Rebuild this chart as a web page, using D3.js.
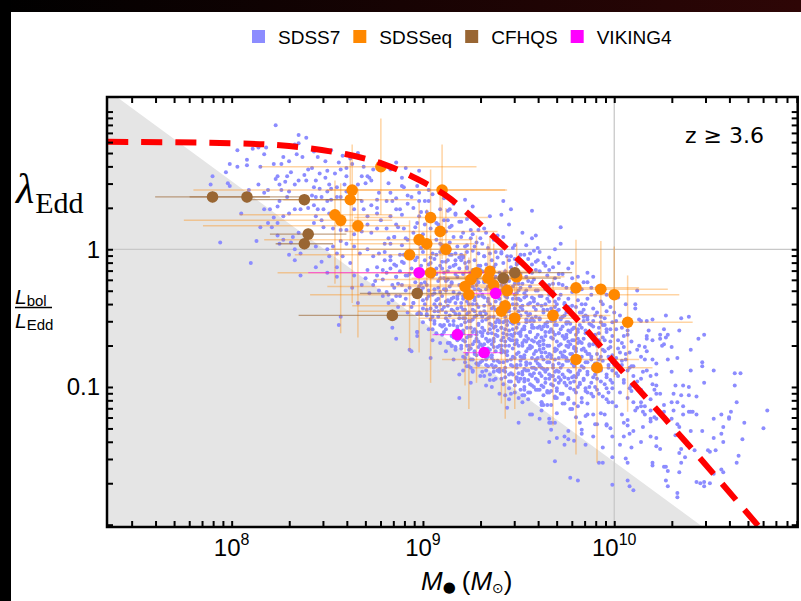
<!DOCTYPE html>
<html>
<head>
<meta charset="utf-8">
<script src="https://cdnjs.cloudflare.com/ajax/libs/d3/7.8.5/d3.min.js"></script>
<style>
  body { margin: 0; background: #fff; }
  svg { display: block; }
</style>
</head>
<body>
<div id="chart"></div>
<script>
// legend
var seriesNames = ["SDSS7", "SDSSeq", "CFHQS", "VIKING4"];
var seriesColors = ["#8c8cff", "#ff8800", "#996633", "#ff00ff"];

// axis ranges and labelled ticks
var xDomain = [2.23e7, 9.1e10];
var yDomain = [0.00962, 12.76];
var xLabelExps = [8, 9, 10];
var yLabelVals = [0.1, 1];
var gridX = [1e10];
var gridY = [1];

// luminosity limit (grey wedge), two ends [M, lambda]
var limitLine = [[2.51e7, 12.76], [2.91e10, 0.00962]];

// red dashed curve, [log M, log lambda]
var curveLog = [[7.35, 0.78], [8.0, 0.77], [8.3, 0.75], [8.6, 0.69], [8.79, 0.62], [8.97, 0.51],
  [9.12, 0.39], [9.26, 0.23], [9.39, 0.065], [9.53, -0.115], [9.66, -0.30], [9.8, -0.50],
  [10.0, -0.82], [10.2, -1.13], [10.4, -1.44], [10.76, -2.02]];

// SDSS7 quasars: [100 log M, 100 log lambda]
var sdss7 = [
  [789,47],[790,53],[798,48],[799,46],[797,56],[799,62],[794,5],[809,43],[814,47],[817,41],[819,43],[803,60],[803,72],[808,65],[808,61],[805,26],[810,-10],[813,6],[817,29],[811,73],[814,74],[818,74],[817,69],[815,60],[815,16],
  [823,51],[824,53],[829,53],[831,56],[828,49],[825,47],[826,43],[830,42],[833,47],[835,50],[838,54],[839,50],[822,62],[826,62],[827,67],[830,64],[834,69],[837,67],[835,77],[833,76],[823,90],[835,83],[839,81],[829,38],[825,35],[824,31],[820,29],[822,23],[819,19],[824,19],[821,16],[827,24],[830,26],[833,29],[836,29],[835,12],[832,9],[831,5],[827,7],[824,10],[825,4],[833,0],[836,-3],[830,-4],[833,-8],[836,-19],
  [840,58],[842,59],[844,50],[846,55],[849,52],[850,57],[854,55],[857,58],[845,67],[849,64],[843,71],[852,72],[858,68],[856,63],[851,47],[852,44],[855,45],[859,47],[850,42],[846,44],[843,45],[842,39],[844,38],[847,38],[850,35],[852,36],[855,38],[857,38],[840,30],[843,32],[845,29],[848,29],[851,26],[844,24],[847,21],[843,19],[848,16],[853,15],[857,14],[850,0],[844,2],[853,2],[857,6],[855,-3],[851,-5],[858,-5],[855,-13],[844,-13],[847,-9],[850,-17],[855,-20],[857,-49],[856,-55],
  [860,59],[860,53],[866,47],[870,48],[873,50],[871,53],[868,53],[860,42],[862,66],[866,70],[863,62],[869,60],[874,58],[878,63],[860,14],[864,11],[868,13],[871,18],[873,12],[876,15],[871,24],[876,26],[869,29],[873,32],[876,36],[868,35],[864,29],[860,4],[864,2],[867,-3],[871,0],[874,-5],[862,-10],[864,-19],[871,-15],[876,-13],[866,-39],[863,-28],[870,-21],[874,-26],[877,-30],[872,-32],[879,-34],[875,-23],[868,-26],
  [872,52],[889,52],[890,45],[881,35],[876,30],[886,37],[888,29],[895,30],[898,35],[901,35],[898,24],[883,24],[878,21],[881,15],[886,18],[890,15],[896,16],[901,18],[907,19],[913,21],[917,26],[922,36],[914,29],[914,16],[920,9],[925,14],[930,8],[933,12],[941,25],[942,35],[946,29],[957,28],[959,10],[960,1],[969,0],[972,4],[972,16],[964,-12],[932,-5],[941,-3],[946,-5],[949,-10],[957,-11],[927,2],[923,3],[921,-5],[914,0],[910,-9],[905,-3],[898,4],[891,8],[885,9],[880,4],[877,-3],[883,-5],[889,-9],[879,-15],[877,41],[883,41],[892,39],[898,41],[903,43],[978,-10],[986,-17],[984,-24],[989,-20],[994,-30],
  [879,-22],[884,-26],[882,-33],[888,-34],[891,-30],[890,-40],[895,-39],[900,-37],[902,-44],[898,-46],[905,-49],[907,-42],[912,-46],[910,-56],[916,-55],[919,-63],[923,-70],[893,-28],[898,-27],[906,-32],[912,-30],[918,-36],[914,-38],[886,-20],[891,-19],[876,-19],
  [919,-108],[886,-65],[884,-57],[893,-73],[894,-74],[897,-63],[897,-60],[900,-53],[909,-68],[912,-74],[917,-73],[915,-70],[919,-91],[921,-88],[924,-85],[926,-89],[928,-83],[933,-99],[937,-95],[940,-105],[943,-106],[945,-109],[950,-108],[953,-102],[957,-120],[963,-113],[966,-123],[969,-126],[974,-136],
  [886,63],[883,58],[882,48],[889,46],[884,35],[886,29],[889,25],[887,16],[885,9],[883,4],[888,-4],[885,-11],[881,-17],[887,-25],[886,-34],[882,-39],[884,-49],
  [891,59],[898,57],[897,46],[894,38],[892,33],[899,27],[897,19],[895,12],[892,7],[899,1],[897,-6],[894,-14],[892,-19],[899,-25],[897,-32],[895,-39],[892,-46],[899,-47],[897,-60],
  [905,40],[903,35],[902,27],[909,29],[904,15],[908,18],[907,7],[901,3],[909,4],[906,-7],[909,-2],[903,-11],[907,-14],[901,-17],[905,-20],[908,-23],[902,-26],[906,-29],[909,-31],[903,-34],[907,-37],[901,-40],[904,-43],[908,-45],[902,-48],[906,-52],[909,-55],[903,-58],[907,-61],[905,-66],[904,-79],[909,-12],[904,-6],[900,-28],[908,-36],[900,11],[906,-45],
  [911,37],[916,33],[913,28],[917,25],[911,21],[915,17],[919,20],[912,13],[916,9],[914,5],[918,2],[911,-1],[915,-4],[919,-6],[912,-9],[916,-12],[913,-16],[917,-18],[911,-21],[915,-24],[919,-26],[912,-29],[916,-31],[918,-34],[913,-37],[917,-39],[911,-42],[915,-44],[919,-47],[912,-50],[916,-52],[914,-55],[918,-58],[911,-60],[915,-63],[919,-65],[913,-68],[917,-71],[916,-80],[910,-14],[917,-8],[914,-27],[910,-34],[918,-43],[914,-48],[917,-61],[913,-22],
  [926,31],[923,22],[929,14],[921,12],[925,8],[928,5],[922,2],[926,-1],[929,-3],[921,-6],[924,-9],[927,-8],[923,-13],[926,-15],[929,-12],[921,-18],[925,-20],[928,-22],[922,-25],[926,-27],[929,-29],[924,-31],[921,-34],[927,-35],[923,-38],[926,-40],[929,-42],[921,-44],[924,-46],[928,-48],[922,-50],[925,-52],[929,-54],[923,-57],[927,-58],[921,-61],[925,-63],[928,-65],[922,-67],[926,-69],[929,-71],[924,-73],[927,-76],[921,-78],[925,-80],[928,-83],[923,-85],[926,-88],[925,-97],[920,-4],[920,-39],[920,-70],[927,-45],[923,-64],[925,-33],[928,-16],[922,-82],[920,20],[926,11],[923,-2],[928,-60],[924,-52],
  [935,24],[932,15],[939,10],[937,7],[931,4],[934,1],[938,-2],[932,-5],[936,-8],[939,-6],[933,-11],[937,-13],[931,-16],[935,-18],[938,-20],[932,-23],[936,-25],[939,-27],[933,-29],[937,-31],[931,-34],[934,-36],[938,-38],[932,-41],[936,-43],[939,-45],[933,-47],[937,-49],[931,-52],[935,-54],[938,-56],[932,-59],[936,-61],[939,-63],[933,-65],[937,-67],[931,-70],[934,-72],[938,-74],[932,-77],[936,-79],[939,-81],[933,-84],[937,-86],[931,-89],[935,-91],[938,-94],[936,-100],[930,-12],[930,-47],[930,-82],[935,-3],[935,-40],[935,-66],[934,-27],[937,-57],[932,-69],[939,-35],[933,-21],[938,-11],[931,-61],[934,-50],[937,-22],[939,-88],[930,-30],[934,-15],
  [945,18],[942,9],[948,3],[947,1],[941,-2],[944,-5],[948,-7],[942,-10],[946,-13],[949,-11],[943,-16],[947,-18],[941,-21],[945,-23],[948,-25],[942,-28],[946,-30],[949,-32],[943,-34],[947,-36],[941,-39],[944,-41],[948,-43],[942,-46],[946,-48],[949,-50],[943,-52],[947,-54],[941,-57],[945,-59],[948,-61],[942,-64],[946,-66],[949,-68],[943,-70],[947,-72],[941,-75],[944,-77],[948,-79],[942,-82],[946,-84],[949,-86],[943,-89],[947,-91],[941,-94],[945,-96],[948,-99],[946,-105],[944,-115],[940,-17],[940,-52],[940,-87],[945,-8],[945,-45],[945,-70],[944,-32],[947,-63],[942,-74],[949,-40],[943,-26],[948,-16],[941,-66],[944,-55],[947,-27],[949,-93],[940,-36],[944,-20],
  [952,12],[957,8],[954,3],[958,-1],[951,-4],[955,-7],[959,-9],[953,-12],[956,-15],[951,-18],[954,-20],[958,-22],[952,-25],[956,-27],[959,-30],[953,-32],[957,-35],[951,-37],[955,-40],[958,-42],[952,-44],[956,-47],[959,-49],[954,-51],[950,-54],[957,-55],[953,-58],[956,-60],[951,-63],[955,-65],[958,-67],[952,-70],[956,-72],[959,-74],[953,-77],[957,-79],[951,-81],[954,-84],[958,-86],[952,-89],[956,-91],[959,-94],[953,-96],[957,-99],[951,-102],[955,-104],[952,-111],[954,-34],[950,-45],[958,-57],[950,-70],[955,-88],[959,-81],[953,-4],[957,-17],[950,-25],[954,-63],[958,-36],[951,-94],[956,-52],[950,-10],[957,-66],[952,-79],[955,-23],[959,-15],[951,-60],[954,-74],[958,-100],[952,-41],[956,-3],[953,-87],
  [961,-2],[966,-6],[963,-10],[968,-13],[961,-16],[965,-19],[969,-21],[962,-24],[966,-26],[964,-29],[968,-31],[961,-34],[965,-36],[969,-38],[962,-41],[967,-43],[963,-46],[966,-48],[961,-51],[965,-53],[969,-55],[962,-58],[966,-60],[964,-63],[968,-65],[961,-67],[965,-70],[969,-72],[962,-75],[967,-77],[963,-80],[966,-82],[961,-85],[965,-87],[969,-89],[962,-92],[966,-94],[964,-97],[968,-99],[961,-102],[965,-104],[969,-107],[967,-113],[962,-117],[960,-30],[960,-57],[960,-79],[967,-52],[964,-40],[968,-84],[963,-69],[966,-33],[960,-95],[969,-62],[962,-86],[965,-44],[968,-25],[961,-73],[964,-89],[967,-103],[963,-56],[969,-46],[960,-8],[966,-15],[962,-34],[965,-78],[968,-92],
  [971,-10],[976,-14],[973,-18],[978,-21],[971,-25],[975,-28],[979,-30],[972,-33],[976,-36],[974,-39],[978,-41],[971,-44],[975,-46],[979,-49],[972,-51],[977,-54],[973,-56],[976,-59],[971,-61],[975,-64],[979,-66],[972,-69],[976,-71],[974,-74],[978,-76],[971,-79],[975,-81],[979,-84],[972,-86],[977,-89],[973,-91],[976,-94],[971,-97],[975,-99],[979,-102],[972,-105],[976,-108],[974,-112],[978,-116],[970,-40],[970,-67],[970,-88],[977,-60],[974,-48],[978,-93],[973,-78],[976,-42],[970,-103],[979,-72],[972,-95],[975,-53],[978,-31],[971,-83],[974,-64],[973,-26],[979,-57],[975,-70],[971,-18],
  [981,-20],[986,-24],[983,-29],[988,-33],[981,-37],[985,-40],[989,-43],[982,-46],[986,-49],[984,-52],[988,-55],[981,-58],[985,-61],[989,-64],[982,-67],[987,-70],[983,-73],[986,-76],[981,-79],[985,-82],[989,-85],[982,-88],[986,-91],[984,-94],[988,-97],[981,-100],[985,-103],[989,-107],[983,-111],[980,-50],[980,-72],[987,-62],[984,-44],[988,-80],[983,-57],[986,-36],[980,-93],[989,-69],[982,-98],[985,-48],[988,-28],[981,-65],[984,-86],[983,-40],[989,-52],[985,-74],[981,-90],[986,-104],
  [991,-28],[996,-33],[993,-38],[998,-42],[991,-46],[995,-50],[999,-53],[992,-57],[996,-60],[994,-64],[998,-67],[991,-70],[995,-74],[999,-77],[992,-80],[997,-84],[993,-87],[996,-91],[991,-94],[995,-98],[999,-101],[992,-105],[996,-109],[990,-62],[990,-85],[997,-72],[994,-55],[998,-95],[993,-78],[996,-45],[990,-100],[999,-88],[992,-66],[998,-58],[991,-83],[994,-40],[997,-104],[993,-49],
  [1002,-35],[1006,-40],[1003,-48],[1008,-53],[1001,-58],[1005,-63],[1009,-67],[1002,-72],[1006,-76],[1004,-81],[1008,-86],[1001,-90],[1005,-95],[1009,-99],[1003,-104],[1007,-108],[1000,-46],[1004,-68],[1007,-59],[1000,-84],
  [1011,-40],[1011,-43],[1017,-52],[1013,-51],[1035,-50],[1039,-49],[1034,-59],[1047,-62],[1026,-58],[1018,-59],[1012,-30],[1027,-48],[1044,-65],[1040,-73],[1046,-82],[1052,-88],[1063,-90],[1066,-90],[1063,-99],[1064,-111],[1047,-97],[1043,-107],[1036,-99],[1032,-99],[1031,-105],[1033,-111],[1028,-80],[1022,-83],[1020,-80],[1017,-88],[1019,-92],[1020,-98],[1022,-99],[1022,-105],[1019,-109],[1026,-69],[1024,-65],[1028,-62],[1024,-62],[1017,-65],[1020,-66],[1013,-70],[1017,-74],[1012,-73],[1014,-78],[1010,-85],[1010,-92],[1012,-96],[1009,-99],[1009,-103],[1014,-102],[1014,-111],[1012,-115],[1015,-118],[1019,-117],[1039,-118],[1041,-118],[1056,-120],[1060,-122],[1014,-52],[1020,-51],[1080,-117],[1078,-130],[1068,-126],[1061,-118],[1057,-129],[1052,-137],[1067,-138],[1065,-150],[1064,-155],[1050,-147],[1042,-146],[1045,-170],[1047,-172],[1050,-170],[1038,-142],[1034,-148],[1037,-151],[1026,-158],[1022,-137],[1020,-155],[1032,-135],[1034,-129],[1031,-117],[1026,-118],[1024,-105],[1021,-102],[1016,-80],[1015,-89],[1014,-94],[1046,-85],[1040,-88],[1039,-100],[1039,-106],[1035,-106],[1030,-89],[1033,-79],[1030,-71],[1027,-64],[1025,-70],[1017,-63],[1016,-71],[1022,-91],
  [950,-126],[956,-120],[961,-123],[969,-154],[977,-166],[981,-168],[966,-140],[974,-142],[979,-139],[976,-132],[985,-142],[983,-134],[992,-155],[994,-155],[999,-171],[999,-151],[994,-144],[990,-127],[1007,-168],[1008,-172],[1010,-175],[1033,-177],[1033,-180],[1027,-168],[1028,-172],[1027,-158],[1028,-161],[1020,-157],[1034,-162],[1035,-155],[1043,-169],[1047,-169],[1052,-163],[1056,-160],[1057,-162],[1060,-123],[1057,-140],[1053,-146],[1049,-146],[1046,-132],[1040,-132],[1040,-118],[1036,-120],[1034,-134],[1033,-127],[1030,-123],[1035,-145],[1026,-113],[1021,-122],[1019,-123],[1016,-120],[1014,-114],[1024,-145],[1022,-143],[1019,-136],[1014,-140],[1015,-129],[1010,-132],[1009,-144],[1006,-152],[1007,-155],[1003,-142],[1005,-136],[1008,-134],[999,-136],[998,-130],[996,-127],[993,-119],[989,-120],[995,-120],[986,-120],[982,-126],[981,-114],[977,-116],[973,-112],[970,-119],[967,-126],[962,-113],[962,-111],[1010,-111],[1011,-117],[1016,-114],[999,-111],[1001,-114],[1004,-120],[1005,-126],[1007,-128],[1007,-124],[1019,-125],[1022,-123],[1030,-111],[1036,-114],[1043,-120],[1052,-123],[1056,-134],[976,-138],[970,-137],[983,-131],[989,-136],[991,-127],[996,-128],[980,-122],[985,-121],[966,-126],[967,-131],
  [880,-8],[883,-14],[886,-20],[889,-26],[881,-31],[884,-37],[887,-42],[880,-2],[883,-8],[886,-12],[889,3],[882,8],[885,-28],[888,-16],[890,-10],[893,-18],[896,-24],[899,-30],[891,-36],[894,-42],[897,-47],[890,-4],[893,-1],[896,-8],[899,-12],
  [900,-2],[904,-10],[907,-18],[901,-24],[905,-33],[909,-40],[902,-47],[906,-54],[903,-15],[908,-28],[900,-43],[904,-51],[907,-4],[902,-36],[909,-21],[905,-58],[901,-8],[906,-40],[903,-30],[908,-49],
  [910,3],[914,-4],[917,-11],[911,-17],[915,-25],[919,-32],[912,-38],[916,-45],[913,-52],[918,-56],[910,-62],[914,-68],[917,-3],[911,-29],[915,-36],[919,-50],[912,-58],[916,-64],[913,-8],[918,-20],[910,-44],[914,-13],[917,-47],[911,-55],[915,-70],[919,-14],[912,-23],[916,-35],[913,-41],[918,-66],
  [920,-8],[923,-14],[926,-19],[929,-24],[921,-28],[924,-33],[927,-37],[920,-42],[923,-47],[926,-51],[929,-55],[921,-59],[924,-63],[927,-67],[920,-72],[923,-76],[926,-80],[929,-84],[922,-10],[925,-17],[928,-26],[921,-36],[924,-40],[927,-49],[922,-53],[925,-57],[928,-62],[921,-66],[924,-70],[927,-74],[922,-79],[925,-86],[928,-40],[920,-55],[926,-60],[929,-67],[923,-30],[926,-44],[929,-34],[921,-50],[924,-22],[928,-77],[925,-72],[922,-44],[927,-29],
  [930,-15],[933,-20],[936,-24],[939,-29],[931,-33],[934,-38],[937,-42],[930,-46],[933,-51],[936,-55],[939,-59],[931,-63],[934,-67],[937,-71],[930,-76],[933,-80],[936,-84],[939,-88],[932,-92],[935,-95],[938,-30],[932,-45],[935,-49],[938,-53],[931,-57],[934,-61],[937,-65],[930,-69],[933,-73],[936,-77],[939,-71],[931,-81],[934,-85],[937,-89],[930,-92],[935,-26],[938,-44],[932,-35],[935,-58],[938,-62],[931,-49],[934,-78],[937,-81],[930,-60],[933,-88],[936,-69],[939,-51],[932,-24],[935,-73],[938,-85],
  [940,-22],[943,-27],[946,-31],[949,-36],[941,-40],[944,-45],[947,-49],[940,-53],[943,-58],[946,-62],[949,-66],[941,-70],[944,-74],[947,-78],[940,-82],[943,-86],[946,-90],[949,-94],[942,-98],[945,-101],[948,-104],[941,-30],[944,-35],[947,-40],[940,-44],[943,-49],[946,-53],[949,-57],[942,-61],[945,-65],[948,-69],[941,-73],[944,-81],[947,-85],[940,-89],[943,-93],[946,-96],[949,-76],[942,-53],[945,-43],[948,-48],[941,-57],[944,-62],[947,-66],[940,-70],[943,-75],[946,-80],[949,-84],[942,-88],[945,-91],[948,-33],[941,-26],[944,-52],[947,-58],[943,-67],
  [950,-30],[953,-35],[956,-39],[959,-44],[951,-48],[954,-53],[957,-57],[950,-61],[953,-66],[956,-70],[959,-74],[951,-78],[954,-82],[957,-86],[950,-90],[953,-94],[956,-98],[959,-102],[952,-106],[955,-109],[958,-38],[951,-42],[954,-46],[957,-50],[950,-36],[953,-56],[956,-60],[959,-64],[952,-68],[955,-72],[958,-76],[951,-84],[954,-88],[957,-92],[950,-96],[953,-100],[956,-104],[959,-80],[952,-58],[955,-48],[958,-52],[951,-62],[954,-67],[957,-71],[950,-75],[953,-79],[956,-83],[959,-87],[952,-91],[955,-95],[958,-90],[951,-28],[954,-30],[957,-24],[953,-106],
  [960,-40],[963,-44],[966,-48],[969,-52],[961,-56],[964,-60],[967,-64],[960,-68],[963,-72],[966,-76],[969,-80],[961,-84],[964,-88],[967,-92],[960,-96],[963,-100],[966,-104],[969,-108],[962,-111],[965,-113],[968,-46],[961,-50],[964,-54],[967,-58],[960,-62],[963,-66],[966,-70],[969,-74],[962,-78],[965,-82],[968,-86],[961,-90],[964,-94],[967,-98],[960,-102],[963,-106],[966,-38],[969,-42],[962,-64],[965,-56],[968,-60],[961,-70],[964,-75],[967,-79],[960,-83],[963,-87],[966,-91],[969,-95],[962,-99],[965,-103],
  [970,-45],[973,-49],[976,-53],[979,-57],[971,-61],[974,-65],[977,-69],[970,-73],[973,-77],[976,-81],[979,-85],[971,-89],[974,-93],[977,-97],[970,-101],[973,-105],[976,-109],[979,-112],[972,-50],[975,-54],[978,-58],[971,-36],[974,-40],[977,-44],[970,-55],[973,-63],[976,-67],[979,-71],[972,-75],[975,-79],[978,-83],[971,-93],[974,-97],[977,-101],[970,-108],[973,-84],[976,-88],[979,-92],[972,-58],[975,-62],[978,-66],[971,-70],[974,-78],[977,-76],[979,-96],
  [980,-42],[983,-46],[986,-51],[989,-56],[981,-60],[984,-65],[987,-69],[980,-74],[983,-78],[986,-82],[989,-87],[981,-91],[984,-95],[987,-100],[980,-104],[983,-108],[986,-112],[982,-55],[985,-59],[988,-63],[981,-68],[984,-72],[987,-76],[980,-81],[983,-85],[986,-89],[989,-93],[982,-97],[985,-101],[988,-105],[984,-49],[987,-54],[980,-62],[983,-68],[988,-78],
  [990,-48],[993,-53],[996,-58],[999,-63],[991,-68],[994,-73],[997,-78],[990,-83],[993,-88],[996,-93],[999,-97],[991,-102],[994,-107],[997,-111],[992,-61],[995,-66],[998,-71],[991,-76],[994,-81],[997,-86],[990,-91],[993,-96],[996,-101],[999,-82],[995,-55],
  [1001,-52],[1004,-57],[1007,-62],[1002,-66],[1005,-71],[1008,-75],[1001,-79],[1004,-84],[1007,-88],[1002,-92],[1005,-97],[1008,-101],[1003,-75],[1006,-80],[1009,-85]
];

// SDSSeq: log M, log lambda, error bars in dex [M below, M above, lambda below, lambda above]
var eqLogM = [8.78, 8.63, 8.62, 8.54, 8.57, 8.66, 9.10, 9.04, 9.09, 8.98, 9.02, 9.12, 8.93, 9.04, 9.28, 9.35, 9.25,
  9.22, 9.24, 9.34, 9.37, 9.44, 9.43, 9.41, 9.48, 9.68, 9.49, 9.80, 9.93, 10.00, 10.07, 9.80, 9.91];
var eqLogL = [0.60, 0.43, 0.36, 0.25, 0.21, 0.17, 0.43, 0.23, 0.13, 0.07, 0.04, 0.00, -0.04, -0.17, -0.17, -0.16, -0.22,
  -0.27, -0.33, -0.21, -0.26, -0.30, -0.41, -0.45, -0.50, -0.48, -0.20, -0.28, -0.29, -0.33, -0.53, -0.80, -0.86];
var eqErr = [[0.63,0.50,0.35,0.35],[0.83,0.80,0.82,0.33],[0.35,0.35,0.30,0.30],[0.50,0.30,0.50,0.25],[0.82,0.27,0.82,0.27],
  [0.81,0.27,0.81,0.27],[0.60,0.34,0.50,0.33],[0.40,0.30,0.80,0.35],[0.50,0.30,0.60,0.30],[0.81,0.27,0.82,0.27],
  [0.40,0.25,0.50,0.25],[0.60,0.30,0.40,0.30],[0.60,0.30,0.70,0.25],[0.80,0.27,0.80,0.27],[0.50,0.30,0.80,0.27],
  [0.40,0.25,0.40,0.25],[0.50,0.30,0.50,0.30],[0.72,0.26,0.72,0.26],[0.83,0.27,0.83,0.27],[0.40,0.25,0.40,0.25],
  [0.50,0.30,0.50,0.30],[0.40,0.25,0.35,0.25],[0.80,0.27,0.82,0.27],[0.75,0.26,0.67,0.25],[0.50,0.30,0.66,0.25],
  [0.60,0.30,0.80,0.27],[0.40,0.25,0.40,0.25],[0.50,0.33,0.60,0.35],[0.60,0.35,0.60,0.35],[0.60,0.34,0.60,0.35],
  [0.60,0.34,0.65,0.34],[0.70,0.33,0.69,0.26],[0.65,0.29,0.69,0.26]];

// CFHQS
var cfLogM = [7.90, 8.08, 8.38, 8.40, 8.38, 8.97, 8.84, 9.42, 9.48];
var cfLogL = [0.38, 0.38, 0.36, 0.11, 0.04, -0.32, -0.48, -0.21, -0.17];
var cfErr = [[0.30,0.30,0.04,0.04],[0.30,0.30,0.04,0.04],[0.30,0.30,0.04,0.04],[0.20,0.20,0.04,0.04],[0.15,0.15,0.04,0.04],
  [0.30,0.30,0.04,0.04],[0.49,0.49,0.04,0.04],[0.30,0.30,0.04,0.04],[0.30,0.30,0.04,0.04]];

// VIKING4
var vkLogM = [8.98, 9.18, 9.32, 9.38];
var vkLogL = [-0.17, -0.62, -0.75, -0.32];
var vkErr = [[0.58,0.35,0.02,0.02],[0.13,0.10,0.02,0.02],[0.11,0.09,0.02,0.02],[0.12,0.10,0.02,0.02]];

var width = 801;
var height = 601;
var plot = { left: 107, right: 797.7, top: 97, bottom: 527 };

var x = d3.scaleLog().domain(xDomain).range([plot.left, plot.right]);
var y = d3.scaleLog().domain(yDomain).range([plot.bottom, plot.top]);
var p10 = function (v) { return Math.pow(10, v); };

var svg = d3.select("#chart").append("svg")
  .attr("width", width)
  .attr("height", height);

// dark strips around the white panel
var grad = svg.append("defs").append("linearGradient").attr("id", "topband");
grad.append("stop").attr("offset", "0%").attr("stop-color", "#000");
grad.append("stop").attr("offset", "100%").attr("stop-color", "#2e0606");
svg.append("rect").attr("x", 0).attr("y", 0).attr("width", width).attr("height", 12).attr("fill", "url(#topband)");
svg.append("rect").attr("x", 0).attr("y", 0).attr("width", 11).attr("height", height).attr("fill", "#000");

svg.select("defs").append("clipPath").attr("id", "clip")
  .append("rect")
  .attr("x", plot.left).attr("y", plot.top)
  .attr("width", plot.right - plot.left).attr("height", plot.bottom - plot.top);

var g = svg.append("g").attr("clip-path", "url(#clip)");

// grey wedge below luminosity limit
var wedge = [[xDomain[0], yDomain[1]], limitLine[0], limitLine[1], [xDomain[0], yDomain[0]]];
g.append("path")
  .attr("d", "M" + wedge.map(function (d) { return x(d[0]) + "," + y(d[1]); }).join("L") + "Z")
  .attr("fill", "#e5e5e5");

// grid lines
g.selectAll(".gx").data(gridX).join("line")
  .attr("x1", function (d) { return x(d); }).attr("x2", function (d) { return x(d); })
  .attr("y1", plot.top).attr("y2", plot.bottom)
  .attr("stroke", "#c8c8c8").attr("stroke-width", 1.3);
g.selectAll(".gy").data(gridY).join("line")
  .attr("y1", function (d) { return y(d); }).attr("y2", function (d) { return y(d); })
  .attr("x1", plot.left).attr("x2", plot.right)
  .attr("stroke", "#c8c8c8").attr("stroke-width", 1.3);

// SDSS7 cloud
g.append("g").selectAll("circle").data(sdss7).join("circle")
  .attr("cx", function (d) { return x(p10(d[0] / 100)); })
  .attr("cy", function (d) { return y(p10(d[1] / 100)); })
  .attr("r", 2)
  .attr("fill", seriesColors[0]);

function makeRows(lm, ll, err) {
  return lm.map(function (m, i) { return { m: m, l: ll[i], e: err[i] }; });
}

function drawErrors(rows, stroke, w) {
  var eg = g.append("g").attr("stroke", stroke).attr("stroke-width", w);
  eg.selectAll(".h").data(rows).join("line")
    .attr("x1", function (d) { return x(p10(d.m - d.e[0])); })
    .attr("x2", function (d) { return x(p10(d.m + d.e[1])); })
    .attr("y1", function (d) { return y(p10(d.l)); })
    .attr("y2", function (d) { return y(p10(d.l)); });
  eg.selectAll(".v").data(rows).join("line")
    .attr("x1", function (d) { return x(p10(d.m)); })
    .attr("x2", function (d) { return x(p10(d.m)); })
    .attr("y1", function (d) { return y(p10(d.l - d.e[2])); })
    .attr("y2", function (d) { return y(p10(d.l + d.e[3])); });
}

function drawDots(rows, fill, r) {
  g.append("g").selectAll("circle").data(rows).join("circle")
    .attr("cx", function (d) { return x(p10(d.m)); })
    .attr("cy", function (d) { return y(p10(d.l)); })
    .attr("r", r)
    .attr("fill", fill);
}

var eqRows = makeRows(eqLogM, eqLogL, eqErr);
var cfRows = makeRows(cfLogM, cfLogL, cfErr);
var vkRows = makeRows(vkLogM, vkLogL, vkErr);

drawErrors(eqRows, "rgba(255,136,0,0.36)", 1.5);
drawErrors(cfRows, "rgba(153,102,51,0.6)", 1.3);
drawErrors(vkRows, "rgba(255,0,255,0.5)", 1.3);
drawDots(eqRows, seriesColors[1], 5.8);
drawDots(cfRows, seriesColors[2], 5.8);
drawDots(vkRows, seriesColors[3], 5.8);

// red dashed curve
var line = d3.line()
  .x(function (d) { return x(p10(d[0])); })
  .y(function (d) { return y(p10(d[1])); })
  .curve(d3.curveCatmullRom.alpha(0.5));
g.append("path")
  .attr("d", line(curveLog))
  .attr("fill", "none")
  .attr("stroke", "#ff0000")
  .attr("stroke-width", 6)
  .attr("stroke-dasharray", "21,13");

// frame with inward ticks on all sides
function ticks(axis, tx, ty, scale) {
  var a = svg.append("g").attr("transform", "translate(" + tx + "," + ty + ")")
    .call(axis(scale).tickValues(scale.ticks()).tickSize(-6).tickFormat(""));
  a.select(".domain").remove();
  a.selectAll("line").attr("stroke", "#000").attr("stroke-width", 2);
}
ticks(d3.axisBottom, 0, plot.bottom, x);
ticks(d3.axisTop, 0, plot.top, x);
ticks(d3.axisLeft, plot.left, 0, y);
ticks(d3.axisRight, plot.right, 0, y);

svg.append("rect")
  .attr("x", plot.left).attr("y", plot.top)
  .attr("width", plot.right - plot.left).attr("height", plot.bottom - plot.top)
  .attr("fill", "none").attr("stroke", "#000").attr("stroke-width", 2.5);

// tick labels
var xl = svg.append("g").attr("font-family", "Liberation Sans, Arial, sans-serif").attr("fill", "#000");
xLabelExps.forEach(function (e) {
  var t = xl.append("text").attr("x", x(p10(e))).attr("y", 556).attr("text-anchor", "middle").attr("font-size", 24);
  t.append("tspan").text("10");
  t.append("tspan").attr("font-size", 16).attr("dy", -11).text(e);
});
svg.append("g").selectAll("text").data(yLabelVals).join("text")
  .attr("x", 100)
  .attr("y", function (d) { return y(d) + 8.5; })
  .attr("text-anchor", "end")
  .attr("font-family", "Liberation Sans, Arial, sans-serif")
  .attr("font-size", 24)
  .text(function (d) { return d; });

// panel note
svg.append("text").attr("x", 685).attr("y", 143)
  .attr("font-family", "DejaVu Sans, sans-serif").attr("font-size", 22)
  .text("z \u2265 3.6");

// y axis label
var yl = svg.append("text").attr("x", 16).attr("y", 203).attr("font-family", "Liberation Serif, Times New Roman, serif");
yl.append("tspan").attr("font-style", "italic").attr("font-size", 42).text("\u03bb");
yl.append("tspan").attr("font-size", 30).attr("dy", 10).attr("dx", 1).text("Edd");

var fr = svg.append("g").attr("font-family", "Liberation Sans, Arial, sans-serif");
var num = fr.append("text").attr("x", 15).attr("y", 304);
num.append("tspan").attr("font-style", "italic").attr("font-size", 21).text("L");
num.append("tspan").attr("font-size", 15).attr("dy", 2).text("bol");
fr.append("line").attr("x1", 15).attr("x2", 52).attr("y1", 307.5).attr("y2", 307.5)
  .attr("stroke", "#000").attr("stroke-width", 1.3);
var den = fr.append("text").attr("x", 15).attr("y", 328);
den.append("tspan").attr("font-style", "italic").attr("font-size", 21).text("L");
den.append("tspan").attr("font-size", 15).attr("dy", 2).text("Edd");

// x axis label
var xt = svg.append("text").attr("x", 421).attr("y", 590)
  .attr("font-family", "Liberation Sans, Arial, sans-serif").attr("font-size", 26);
xt.append("tspan").attr("font-style", "italic").text("M");
xt.append("tspan").attr("font-family", "DejaVu Sans").attr("font-size", 15).attr("dy", 2).text("\u25cf");
xt.append("tspan").attr("dy", -2).attr("dx", 6).text("(");
xt.append("tspan").attr("font-style", "italic").text("M");
xt.append("tspan").attr("font-family", "DejaVu Sans").attr("font-size", 14).attr("dy", 3).text("\u2299");
xt.append("tspan").attr("dy", -3).text(")");

// legend
var lg = svg.append("g").attr("font-family", "Liberation Sans, Arial, sans-serif").attr("font-size", 19);
var lx = 252;
seriesNames.forEach(function (name, i) {
  lg.append("rect").attr("x", lx).attr("y", 30).attr("width", 13).attr("height", 13).attr("fill", seriesColors[i]);
  var t = lg.append("text").attr("x", lx + 26).attr("y", 43.5).text(name);
  lx += 26 + t.node().getComputedTextLength() + 13;
});
</script>
</body>
</html>
